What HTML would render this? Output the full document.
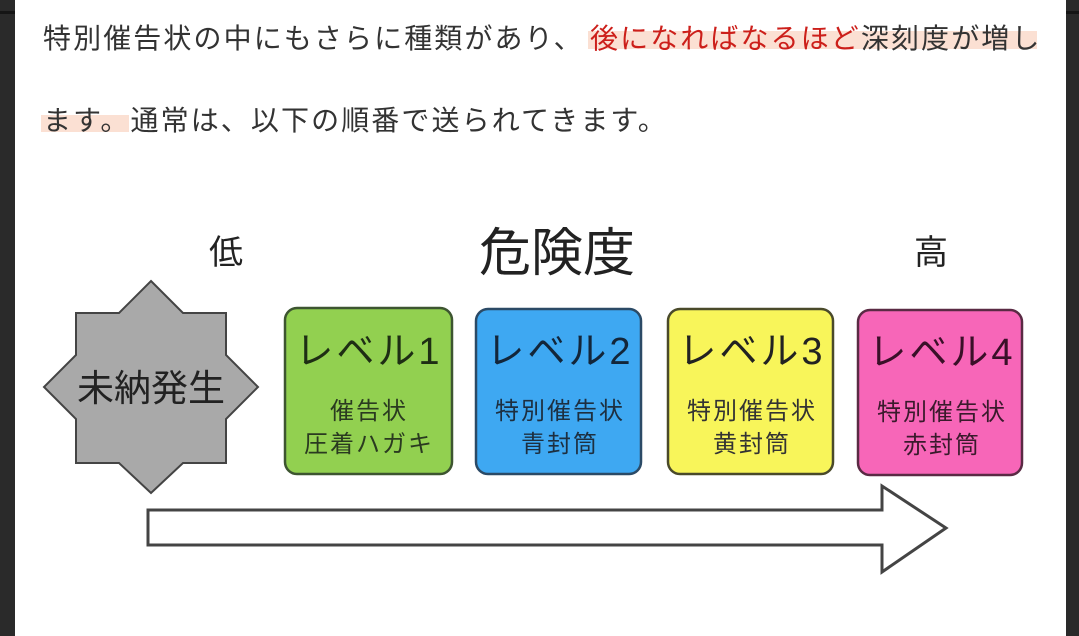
<!DOCTYPE html>
<html><head><meta charset="utf-8"><style>
html,body{margin:0;padding:0;width:1079px;height:636px;overflow:hidden;background:#fff}
.jp{font-family:"Liberation Sans","Noto Sans CJK JP",sans-serif}
</style></head><body>
<svg width="1079" height="636" viewBox="0 0 1079 636" xmlns="http://www.w3.org/2000/svg" class="jp" style="position:absolute;left:0;top:0">
<rect x="0" y="0" width="15" height="636" fill="#2a2a2a"/>
<rect x="0" y="11" width="15" height="3" fill="#151515"/>
<rect x="1066" y="0" width="13" height="636" fill="#2a2a2a"/>
<rect x="1066" y="11" width="13" height="3" fill="#151515"/>
<!-- highlights -->
<rect x="588" y="31" width="449" height="18" fill="#fbe0d3"/>
<rect x="41" y="115" width="88" height="17" fill="#fbe0d3"/>
<text x="43" y="48" font-size="28" fill="#333" letter-spacing="2.1">特別催告状の中にもさらに種類があり、</text>
<text x="590" y="48" font-size="28" fill="#333" letter-spacing="2.1"><tspan fill="#cc1f1a">後になればなるほど</tspan>深刻度が増し</text>
<text x="43" y="130" font-size="28" fill="#333" letter-spacing="2.1">ます。通常は、以下の順番で送られてきます。</text>
<!-- headers -->
<text x="226" y="264" font-size="34" text-anchor="middle" fill="#222">低</text>
<text x="557" y="271" font-size="52" text-anchor="middle" fill="#222">危険度</text>
<text x="931" y="264" font-size="34" text-anchor="middle" fill="#222">高</text>
<!-- star -->
<polygon points="151,281 183,313 226,313 226,355 258,387 226,419 226,463 183,463 151,493 119,463 76,463 76,419 44,387 76,355 76,313 119,313" fill="#a9a9a9" stroke="#444" stroke-width="2"/>
<text x="151" y="401" font-size="37" text-anchor="middle" fill="#222">未納発生</text>
<!-- boxes -->
<g font-size="38" text-anchor="middle" letter-spacing="3">
<text x="368" y="364" fill="#1e2e14">レベル1</text>
</g>
<rect x="285" y="308" width="167" height="166" rx="12" fill="#92d050" stroke="#3d5530" stroke-width="2.5"/>
<text x="369" y="364" font-size="38" letter-spacing="3" text-anchor="middle" fill="#1e2e14">レベル1</text>
<text x="369" y="419" font-size="24" letter-spacing="2" text-anchor="middle" fill="#2a3a20">催告状</text>
<text x="369" y="452" font-size="24" letter-spacing="2" text-anchor="middle" fill="#2a3a20">圧着ハガキ</text>

<rect x="476" y="309" width="165" height="165" rx="12" fill="#3ea8f2" stroke="#2b4a66" stroke-width="2.5"/>
<text x="560" y="364" font-size="38" letter-spacing="3" text-anchor="middle" fill="#13263a">レベル2</text>
<text x="560" y="419" font-size="24" letter-spacing="2" text-anchor="middle" fill="#1d2f40">特別催告状</text>
<text x="560" y="452" font-size="24" letter-spacing="2" text-anchor="middle" fill="#1d2f40">青封筒</text>

<rect x="668" y="309" width="165" height="165" rx="12" fill="#f8f55a" stroke="#4a4a2a" stroke-width="2.5"/>
<text x="752" y="364" font-size="38" letter-spacing="3" text-anchor="middle" fill="#222">レベル3</text>
<text x="752" y="419" font-size="24" letter-spacing="2" text-anchor="middle" fill="#333">特別催告状</text>
<text x="752" y="452" font-size="24" letter-spacing="2" text-anchor="middle" fill="#333">黄封筒</text>

<rect x="858" y="310" width="164" height="165" rx="12" fill="#f766b8" stroke="#5a2a44" stroke-width="2.5"/>
<text x="942" y="365" font-size="38" letter-spacing="3" text-anchor="middle" fill="#3a1028">レベル4</text>
<text x="942" y="420" font-size="24" letter-spacing="2" text-anchor="middle" fill="#3a1a2c">特別催告状</text>
<text x="942" y="453" font-size="24" letter-spacing="2" text-anchor="middle" fill="#3a1a2c">赤封筒</text>
<!-- arrow -->
<polygon points="148,510 882,510 882,486 946,528 882,572 882,545 148,545" fill="#fff" stroke="#444" stroke-width="3"/>
</svg>
</body></html>
